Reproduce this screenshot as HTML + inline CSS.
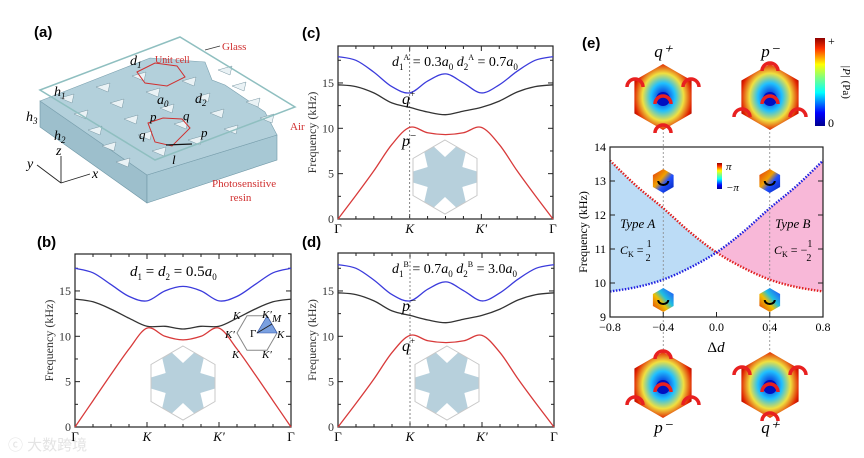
<!DOCTYPE html>
<html><head><meta charset="utf-8"><style>
body{margin:0;background:#fff;}
svg{display:block;font-family:"Liberation Serif",serif;}
.lab{font-family:"Liberation Sans",sans-serif;font-weight:bold;font-size:15px;}
</style></head><body>
<svg id="fig" width="864" height="458" viewBox="0 0 864 458">
<defs>
<linearGradient id="jet" x1="0" y1="1" x2="0" y2="0">
<stop offset="0" stop-color="#00008f"/><stop offset="0.15" stop-color="#0000ff"/><stop offset="0.38" stop-color="#00ffff"/><stop offset="0.55" stop-color="#80ff80"/><stop offset="0.7" stop-color="#ffff00"/><stop offset="0.88" stop-color="#ff3000"/><stop offset="1" stop-color="#8f0000"/></linearGradient>
<radialGradient id="modeA" cx="0.5" cy="0.5" r="0.6"><stop offset="0" stop-color="#0010d0"/><stop offset="0.35" stop-color="#20c0ff"/><stop offset="0.6" stop-color="#f0e040"/><stop offset="0.85" stop-color="#e02000"/><stop offset="1" stop-color="#900000"/></radialGradient>
<linearGradient id="phA" x1="0" y1="0" x2="1" y2="1"><stop offset="0" stop-color="#e03010"/><stop offset="0.4" stop-color="#f0a000"/><stop offset="0.6" stop-color="#2050ff"/><stop offset="1" stop-color="#0020b0"/></linearGradient>
<linearGradient id="phB" x1="1" y1="0" x2="0" y2="1"><stop offset="0" stop-color="#2040ff"/><stop offset="0.4" stop-color="#20c0e0"/><stop offset="0.6" stop-color="#f0c000"/><stop offset="1" stop-color="#e03010"/></linearGradient>
</defs>

<!-- Panel a -->
<g>
<text class="lab" x="34" y="37">(a)</text>
<polygon points="40,127 147,203 147,175 40,101" fill="#9dbfcc" stroke="#6f97a6" stroke-width="0.6"/>
<polygon points="147,203 277,160 277,135 147,175" fill="#a7c8d4" stroke="#6f97a6" stroke-width="0.6"/>
<polygon points="40,101 150,58 205,62 212,80 225,85 265,112 277,135 147,175" fill="#b3d0db" stroke="#7aa0ae" stroke-width="0.6"/>
<g id="holes" fill="#eaf2f5" stroke="#7a98a4" stroke-width="0.5"></g>
<polygon points="40,90 180,37 295,107 155,160" fill="none" stroke="#8fbfc0" stroke-width="1.5"/>
<polygon points="137,72 155,63 177,66 185,77 167,86 145,83" fill="none" stroke="#d03030" stroke-width="1"/>
<polygon points="148,123 163,118 182,119 190,128 172,146 155,142" fill="none" stroke="#d03030" stroke-width="1"/>
<text x="130" y="65" font-size="14" font-style="italic">d<tspan font-size="9" dy="3">1</tspan></text>
<text x="155" y="63" font-size="10" fill="#d03030">Unit cell</text>
<text x="157" y="104" font-size="14" font-style="italic">a<tspan font-size="9" dy="3">0</tspan></text>
<text x="195" y="103" font-size="14" font-style="italic">d<tspan font-size="9" dy="3">2</tspan></text>
<text x="222" y="50" font-size="11" fill="#d03030">Glass</text>
<line x1="205" y1="50" x2="220" y2="46" stroke="#333" stroke-width="0.8"/>
<text x="290" y="130" font-size="11" fill="#d03030">Air</text>
<text x="212" y="187" font-size="11" fill="#d03030">Photosensitive</text>
<text x="230" y="201" font-size="11" fill="#d03030">resin</text>
<text x="54" y="96" font-size="14" font-style="italic">h<tspan font-size="9" dy="3">1</tspan></text>
<text x="26" y="121" font-size="14" font-style="italic">h<tspan font-size="9" dy="3">3</tspan></text>
<text x="54" y="140" font-size="14" font-style="italic">h<tspan font-size="9" dy="3">2</tspan></text>
<text x="150" y="121" font-size="13" font-style="italic">p</text><text x="183" y="120" font-size="13" font-style="italic">q</text>
<text x="139" y="139" font-size="13" font-style="italic">q</text><text x="201" y="137" font-size="13" font-style="italic">p</text>
<text x="172" y="164" font-size="13" font-style="italic">l</text>
<line x1="166" y1="145" x2="192" y2="144" stroke="#111" stroke-width="1.3"/>
<g stroke="#222" stroke-width="0.9" fill="none"><line x1="61" y1="183" x2="90" y2="174"/><line x1="61" y1="183" x2="61" y2="156"/><line x1="61" y1="183" x2="37" y2="165"/></g>
<text x="27" y="168" font-size="14" font-style="italic">y</text><text x="56" y="155" font-size="14" font-style="italic">z</text><text x="92" y="178" font-size="14" font-style="italic">x</text>
</g>

<g id="bandplots"></g>

<!-- Panel e -->
<g>
<text class="lab" x="582" y="48">(e)</text>
<g id="echart"></g>
<rect x="815" y="38" width="10" height="88" fill="url(#jet)"/>
<text x="828" y="45" font-size="12">+</text><text x="828" y="127" font-size="12">0</text>
<text transform="translate(843,82) rotate(90)" font-size="11" text-anchor="middle"><tspan font-style="italic">|P|</tspan> (Pa)</text>
</g>
<text x="8" y="450" font-size="15" fill="#e4e4e4" font-family="Liberation Sans,'Noto Sans CJK SC',sans-serif">ⓒ 大数跨境</text>
</svg>
<script>
// ===== Band structure data (k path samples: Γ=0, K=1, K'=2, Γ=3) =====
const kPoints = [0,0.25,0.5,0.75,1,1.25,1.5,1.75,2,2.25,2.5,2.75,3];
const kLabels = ["Γ","K","K'","Γ"];
const freqTicks = [0,5,10,15];
const bBlue  = [17.5,17.0,15.7,14.4,13.9,15.0,15.5,15.0,13.9,14.4,15.7,17.0,17.5];
const bBlack = [14.1,13.8,13.0,12.0,11.1,11.1,10.8,11.1,11.1,12.0,13.0,13.8,14.1];
const bRed   = [0,2.9,5.8,8.6,10.9,10.0,9.6,10.0,10.9,8.6,5.8,2.9,0];
const cBlue  = [17.9,17.5,16.2,14.6,13.9,15.2,16.0,15.0,13.9,14.8,16.3,17.5,17.9];
const cBlack = [14.8,14.6,13.9,12.8,12.3,11.8,11.5,11.9,12.3,13.0,14.0,14.6,14.8];
const cRed   = [0,2.6,5.3,8.2,10.1,9.5,9.3,9.5,10.1,8.2,5.3,2.6,0];
const dBlue  = [17.9,17.5,16.2,14.6,13.9,15.2,16.0,15.0,13.9,14.8,16.3,17.5,17.9];
const dBlack = [14.8,14.6,13.9,12.8,12.3,11.8,11.5,11.9,12.3,13.0,14.0,14.6,14.8];
const dRed   = [0,2.6,5.3,8.2,10.1,9.5,9.3,9.5,10.1,8.2,5.3,2.6,0];
// ===== Panel e data =====
const deltaD = [-0.8,-0.6,-0.4,-0.2,0,0.2,0.4,0.6,0.8];
const upperRed = [13.6,12.85,12.2,11.5,10.9,10.45,10.1,9.88,9.75];
const lowerBlue = [9.75,9.88,10.1,10.45,10.9,11.5,12.2,12.85,13.6];
const eXTicks = [-0.8,-0.4,0.0,0.4,0.8];
const eYTicks = [9,10,11,12,13,14];

const NS="http://www.w3.org/2000/svg";
function mk(tag,attrs,parent){const e=document.createElementNS(NS,tag);for(const k in attrs)e.setAttribute(k,attrs[k]);parent.appendChild(e);return e;}
function smooth(pts){let d="M"+pts[0][0]+","+pts[0][1];for(let i=0;i<pts.length-1;i++){const p0=pts[Math.max(0,i-1)],p1=pts[i],p2=pts[i+1],p3=pts[Math.min(pts.length-1,i+2)];const c1=[p1[0]+(p2[0]-p0[0])/6,p1[1]+(p2[1]-p0[1])/6],c2=[p2[0]-(p3[0]-p1[0])/6,p2[1]-(p3[1]-p1[1])/6];d+=" C"+c1+" "+c2+" "+p2;}return d;}
function hexPts(cx,cy,r,rot){let s=[];for(let i=0;i<6;i++){const a=(rot+60*i)*Math.PI/180;s.push((cx+r*Math.cos(a)).toFixed(1)+","+(cy+r*Math.sin(a)).toFixed(1));}return s.join(" ");}

const holes=document.getElementById('holes');
for(let r=0;r<5;r++)for(let c=0;c<6;c++){const x=60+c*36+r*14-(c>3&&r<1?100:0), y=98+r*16-c*11;
 if(x<50||x>265||y<70)continue;
 const t=mk('polygon',{points:`${x},${y} ${x+14},${y-4} ${x+12},${y+5}`},holes);
 
 }

const panels=[
 {id:'b',x0:75,x1:291,yb:427,yt:254,blue:bBlue,black:bBlack,red:bRed,ins:[183,383],lab:[37,247]},
 {id:'c',x0:338,x1:553,yb:219,yt:46,blue:cBlue,black:cBlack,red:cRed,ins:[445,177],lab:[302,38]},
 {id:'d',x0:338,x1:554,yb:427,yt:253,blue:dBlue,black:dBlack,red:dRed,ins:[447,383],lab:[302,247]}
];
const root=document.getElementById('bandplots');
panels.forEach(P=>{
 const g=mk('g',{},root);
 
 
 const ppk=9.07;
 const X=k=>P.x0+(P.x1-P.x0)*k/3, Y=f=>P.yb-f*ppk;
 const lb=mk('text',{x:P.lab[0],y:P.lab[1],class:'lab'},g);lb.textContent='('+P.id+')';
 
 
 // inset unit cell
 const [cx,cy]=P.ins, R=37;
 const hx=mk('polygon',{points:hexPts(cx,cy,R,-90),fill:'#b7d0dc'},g);
 
 
 for(let i=0;i<6;i++){const a=(-90+60*i)*Math.PI/180,vx=cx+R*Math.cos(a),vy=cy+R*Math.sin(a);
  const e1=a+Math.PI*2/3, e2=a-Math.PI*2/3, L=13, D=17;
  mk('polygon',{points:`${vx},${vy} ${vx+L*Math.cos(e1)},${vy+L*Math.sin(e1)} ${cx+(R-D)*Math.cos(a)},${cy+(R-D)*Math.sin(a)} ${vx+L*Math.cos(e2)},${vy+L*Math.sin(e2)}`,fill:'#fff'},g);}
 mk('polygon',{points:hexPts(cx,cy,R,-90),fill:'none',stroke:'#c8c8c8','stroke-width':1},g);
 // axes frame
 const fr=mk('rect',{x:P.x0,y:P.yt,width:P.x1-P.x0,height:P.yb-P.yt,fill:'none',stroke:'#222','stroke-width':1.2},g);
 
 
 for(let f=0;f<=19;f+=2.5){const l=f%5===0?5:3;mk('line',{x1:P.x0,y1:Y(f),x2:P.x0+l,y2:Y(f),stroke:'#222'},g);mk('line',{x1:P.x1,y1:Y(f),x2:P.x1-l,y2:Y(f),stroke:'#222'},g);}
 freqTicks.forEach(f=>{const t=mk('text',{x:P.x0-4,y:Y(f)+4,'font-size':12,'text-anchor':'end',fill:'#333'},g);t.textContent=f;
  
  });
 for(let k=0;k<=3;k+=0.25){const l=(k%1===0)?5:3;mk('line',{x1:X(k),y1:P.yb,x2:X(k),y2:P.yb-l,stroke:'#222'},g);mk('line',{x1:X(k),y1:P.yt,x2:X(k),y2:P.yt+l,stroke:'#222'},g);}
 kLabels.forEach((s,i)=>{const t=mk('text',{x:X(i),y:P.yb+14,'font-size':13,'text-anchor':'middle','font-style':i%3?'italic':'normal'},g);t.textContent=s;
  
  });
 const yt=mk('text',{transform:`translate(${P.x0-22},${(P.yb+P.yt)/2}) rotate(-90)`,'font-size':12,'text-anchor':'middle',fill:'#333'},g);yt.textContent='Frequency (kHz)';
 
 
 if(P.id!=='b'){const dl=mk('line',{x1:X(1),y1:P.yt,x2:X(1),y2:P.yb,stroke:'#666','stroke-dasharray':'2,2','stroke-width':0.8},g);
  
  }
 [['blue','#3b3bdc'],['black','#333'],['red','#d83a3a']].forEach(([n,c])=>{
  const pts=kPoints.map((k,i)=>[+X(k).toFixed(1),+Y(P[n][i]).toFixed(1)]);
  const p=mk('path',{d:smooth(pts),fill:'none',stroke:c,'stroke-width':1.3},g);
  
  });
});
// annotations
function txt(x,y,html,fs,name){const t=mk('text',{x:x,y:y,'font-size':fs||14},root);t.innerHTML=html;
 
 return t;}
txt(130,276,'<tspan font-style="italic">d</tspan><tspan font-size="9" dy="4">1</tspan><tspan dy="-4"> = </tspan><tspan font-style="italic">d</tspan><tspan font-size="9" dy="4">2</tspan><tspan dy="-4"> = 0.5</tspan><tspan font-style="italic">a</tspan><tspan font-size="9" dy="4">0</tspan>',15,'params-b');
txt(392,66,'<tspan font-style="italic">d</tspan><tspan font-size="9" dy="4">1</tspan><tspan font-size="8" dy="-10">A</tspan><tspan dy="6"> = 0.3</tspan><tspan font-style="italic">a</tspan><tspan font-size="9" dy="4">0</tspan><tspan dy="-4">  </tspan><tspan font-style="italic">d</tspan><tspan font-size="9" dy="4">2</tspan><tspan font-size="8" dy="-10">A</tspan><tspan dy="6"> = 0.7</tspan><tspan font-style="italic">a</tspan><tspan font-size="9" dy="4">0</tspan>',14,'params-c');
txt(392,273,'<tspan font-style="italic">d</tspan><tspan font-size="9" dy="4">1</tspan><tspan font-size="8" dy="-10">B</tspan><tspan dy="6"> = 0.7</tspan><tspan font-style="italic">a</tspan><tspan font-size="9" dy="4">0</tspan><tspan dy="-4">  </tspan><tspan font-style="italic">d</tspan><tspan font-size="9" dy="4">2</tspan><tspan font-size="8" dy="-10">B</tspan><tspan dy="6"> = 3.0</tspan><tspan font-style="italic">a</tspan><tspan font-size="9" dy="4">0</tspan>',14,'params-d');
txt(402,104,'<tspan font-style="italic">q</tspan><tspan font-size="9" dy="-7">+</tspan>',16,'mode-label-q-plus-c');
txt(402,146,'<tspan font-style="italic">p</tspan><tspan font-size="11" dy="-7">−</tspan>',16,'mode-label-p-minus-c');
txt(402,311,'<tspan font-style="italic">p</tspan><tspan font-size="11" dy="-7">−</tspan>',16,'mode-label-p-minus-d');
txt(402,351,'<tspan font-style="italic">q</tspan><tspan font-size="9" dy="-7">+</tspan>',16,'mode-label-q-plus-d');
// BZ inset
{const g=mk('g',{},root);
 mk('polygon',{points:hexPts(257,333,20,0),fill:'none',stroke:'#888'},g);
 mk('polygon',{points:'257,333 277,333 267,316',fill:'#7aa0e0',stroke:'#3355aa','stroke-width':0.6},g);
 mk('line',{x1:257,y1:333,x2:272,y2:324,stroke:'#222'},g);
 [['Γ',250,337,0],['K',277,338,1],['K',233,319,1],['K′',262,318,1],['K′',225,338,1],['K',232,358,1],['K′',262,358,1],['M',272,322,1]].forEach(a=>{const t=mk('text',{x:a[1],y:a[2],'font-size':11,'font-style':a[3]?'italic':'normal'},g);t.textContent=a[0];});}

// ===== Panel e chart =====
const eg=document.getElementById('echart');
const EX=v=>610+(v+0.8)/1.6*213, EY=f=>317-(f-9)*34;
const ptsR=deltaD.map((d,i)=>[EX(d),EY(upperRed[i])]), ptsB=deltaD.map((d,i)=>[EX(d),EY(lowerBlue[i])]);
const pathR=smooth(ptsR), pathB=smooth(ptsB);
const clipL=mk('clipPath',{id:'cl'},eg);mk('rect',{x:EX(-0.8),y:0,width:EX(0)-EX(-0.8),height:458},clipL);
const clipR=mk('clipPath',{id:'cr'},eg);mk('rect',{x:EX(0),y:0,width:EX(0.8)-EX(0),height:458},clipR);
const revB=smooth(ptsB.slice().reverse()).replace(/^M/,'L');
const fa=mk('path',{d:pathR+' '+revB+' Z',fill:'#bcdcf6','clip-path':'url(#cl)'},eg);


const fb=mk('path',{d:pathR+' '+revB+' Z',fill:'#f8b8d8','clip-path':'url(#cr)'},eg);


const cr=mk('path',{d:pathR,fill:'none',stroke:'#e02020','stroke-width':2.4,'stroke-dasharray':'1.5,1.5'},eg);


const cb=mk('path',{d:pathB,fill:'none',stroke:'#2020e0','stroke-width':2.4,'stroke-dasharray':'1.5,1.5'},eg);


[-0.4,0.4].forEach(v=>{const l=mk('line',{x1:EX(v),y1:128,x2:EX(v),y2:352,stroke:'#888','stroke-dasharray':'2,2','stroke-width':0.8},eg);
 
 });
const ef=mk('rect',{x:610,y:147,width:213,height:170,fill:'none',stroke:'#222','stroke-width':1.2},eg);


eYTicks.forEach(f=>{mk('line',{x1:610,y1:EY(f),x2:615,y2:EY(f),stroke:'#222'},eg);mk('line',{x1:823,y1:EY(f),x2:818,y2:EY(f),stroke:'#222'},eg);
 const t=mk('text',{x:606,y:EY(f)+4,'font-size':12,'text-anchor':'end'},eg);t.textContent=f;
 
 });
eXTicks.forEach(v=>{mk('line',{x1:EX(v),y1:317,x2:EX(v),y2:312,stroke:'#222'},eg);
 const t=mk('text',{x:EX(v),y:331,'font-size':12,'text-anchor':'middle'},eg);t.textContent=(v<0?'−':'')+Math.abs(v).toFixed(1);
 
 });
const ex=mk('text',{x:716,y:352,'font-size':15,'text-anchor':'middle'},eg);ex.innerHTML='Δ<tspan font-style="italic">d</tspan>';

const ey=mk('text',{transform:'translate(587,232) rotate(-90)','font-size':12,'text-anchor':'middle'},eg);ey.textContent='Frequency (kHz)';

const ta=mk('text',{x:620,y:228,'font-size':13,'font-style':'italic'},eg);ta.textContent='Type A';

const tb=mk('text',{x:775,y:228,'font-size':13,'font-style':'italic'},eg);tb.textContent='Type B';

const c1=mk('text',{x:620,y:254,'font-size':12},eg);c1.innerHTML='<tspan font-style="italic">C</tspan><tspan font-size="8" dy="3">K</tspan><tspan dy="-3"> = </tspan><tspan font-size="10" dy="-7">1</tspan><tspan font-size="10" dx="-6" dy="14">2</tspan>';

const c2=mk('text',{x:774,y:254,'font-size':12},eg);c2.innerHTML='<tspan font-style="italic">C</tspan><tspan font-size="8" dy="3">K</tspan><tspan dy="-3"> = −</tspan><tspan font-size="10" dy="-7">1</tspan><tspan font-size="10" dx="-6" dy="14">2</tspan>';

mk('rect',{x:717,y:163,width:5,height:26,fill:'url(#jet)'},eg);
const pi1=mk('text',{x:726,y:170,'font-size':11,'font-style':'italic'},eg);pi1.textContent='π';
const pi2=mk('text',{x:726,y:191,'font-size':11,'font-style':'italic'},eg);pi2.textContent='−π';
[[-0.4,13,'phA'],[0.4,13,'phA'],[-0.4,9.5,'phB'],[0.4,9.5,'phB']].forEach(([v,f,fill])=>{
 const h=mk('polygon',{points:hexPts(EX(v),EY(f),12,-90),fill:'url(#'+fill+')'},eg);
 
 
 mk('path',{d:`M${EX(v)-5},${EY(f)} a5,4 0 0 0 10,0`,fill:'none',stroke:'#000','stroke-width':2},eg);});
[[663,97,'q⁺','top'],[770,97,'p⁻','top'],[663,385,'p⁻','bot'],[770,385,'q⁺','bot']].forEach(([x,y,lab,pos],i)=>{
 const h=mk('polygon',{points:hexPts(x,y,33,-90),fill:'url(#modeA)'},eg);
 
 
 mk('circle',{cx:x,cy:y+2,r:7,fill:'#0010c0'},eg);
 const arcs=(i%3===0)?[[x,y+3],[x-28,y-14],[x+28,y-14],[x,y+32]]:[[x,y+3],[x,y-30],[x-28,y+16],[x+28,y+16]];
 arcs.forEach(([ax,ay])=>mk('path',{d:`M${ax-8},${ay+4} a8,8 0 0 1 16,0`,fill:'none',stroke:'#e82020','stroke-width':3.5},eg));
 const t=mk('text',{x:x,y:pos==='top'?y-40:y+48,'font-size':17,'text-anchor':'middle','font-style':'italic'},eg);t.textContent=lab;
 
 });
</script>
</body></html>
